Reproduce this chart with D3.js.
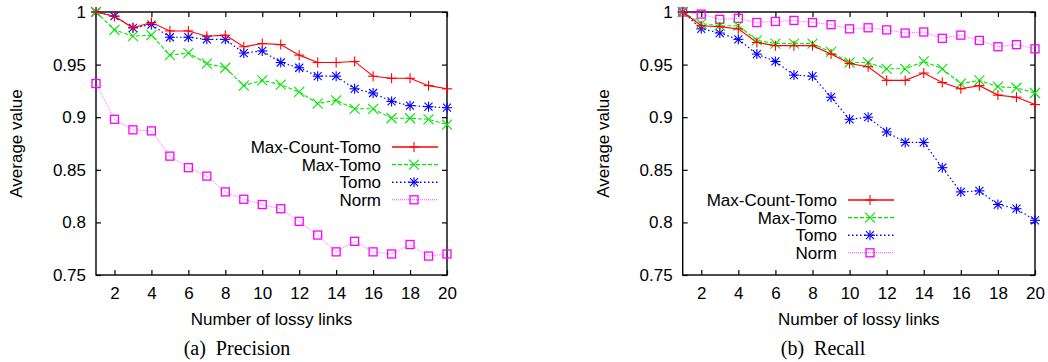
<!DOCTYPE html>
<html>
<head>
<meta charset="utf-8">
<script src="https://cdn.jsdelivr.net/npm/d3@7"></script>
<style>
  body { margin: 0; background: #fff; }
  svg text { font-family: "Liberation Sans", Arial, sans-serif; }
</style>
</head>
<body>
<div id="container"></div>
<script>
var lossyLinks = [1,2,3,4,5,6,7,8,9,10,11,12,13,14,15,16,17,18,19,20];
var seriesNames = ["Max-Count-Tomo", "Max-Tomo", "Tomo", "Norm"];
var yTicks = [0.75, 0.8, 0.85, 0.9, 0.95, 1];
var xTicks = [2,4,6,8,10,12,14,16,18,20];

var precisionMaxCount = [1.0,0.996,0.985,0.990,0.982,0.982,0.977,0.978,0.967,0.970,0.969,0.959,0.952,0.952,0.953,0.939,0.937,0.937,0.930,0.927];
var precisionMaxTomo  = [1.0,0.983,0.977,0.978,0.959,0.961,0.951,0.947,0.930,0.935,0.931,0.924,0.913,0.916,0.908,0.908,0.899,0.899,0.898,0.893];
var precisionTomo     = [1.0,0.996,0.985,0.988,0.976,0.976,0.974,0.974,0.961,0.963,0.952,0.947,0.939,0.939,0.927,0.923,0.915,0.911,0.910,0.909];
var precisionNorm     = [0.932,0.898,0.888,0.887,0.863,0.852,0.844,0.829,0.822,0.817,0.813,0.801,0.788,0.772,0.782,0.772,0.770,0.779,0.768,0.770];

var recallMaxCount = [1.0,0.987,0.986,0.984,0.971,0.968,0.968,0.968,0.960,0.951,0.948,0.935,0.935,0.942,0.933,0.927,0.930,0.921,0.919,0.912];
var recallMaxTomo  = [1.0,0.989,0.987,0.987,0.973,0.970,0.970,0.970,0.962,0.952,0.952,0.946,0.946,0.953,0.946,0.932,0.935,0.929,0.928,0.923];
var recallTomo     = [1.0,0.984,0.980,0.974,0.960,0.953,0.940,0.939,0.919,0.898,0.900,0.886,0.876,0.876,0.852,0.829,0.830,0.817,0.813,0.802];
var recallNorm     = [1.0,0.998,0.993,0.994,0.990,0.991,0.992,0.990,0.988,0.984,0.985,0.983,0.980,0.981,0.975,0.978,0.973,0.967,0.969,0.965];

// line look for each series: colour, dash, marker
var styles = [
  {color: "#ff0000", dash: null,  width: 1.1, marker: "plus",   opacity: 1},
  {color: "#00e600", dash: "4,2", width: 1.1, marker: "cross",  opacity: 1},
  {color: "#0000ff", dash: "1.5,2.5", width: 1.2, marker: "star", opacity: 1},
  {color: "#ff00ff", dash: "1,1", width: 0.8, marker: "square", opacity: 0.75}
];

var svg = d3.select("#container").append("svg")
    .attr("width", 1048)
    .attr("height", 362);

function drawMarker(g, type, cx, cy, color) {
  var r = 5;
  var m = g.append("g").attr("transform", "translate(" + cx + "," + cy + ")")
      .attr("stroke", color).attr("stroke-width", 1.1).attr("fill", "none");
  if (type == "plus" || type == "star") {
    m.append("line").attr("x1", -r).attr("x2", r).attr("y1", 0).attr("y2", 0);
    m.append("line").attr("x1", 0).attr("x2", 0).attr("y1", -r).attr("y2", r);
  }
  if (type == "cross" || type == "star") {
    var k = type == "star" ? 4 : 5;
    m.append("line").attr("x1", -k).attr("x2", k).attr("y1", -k).attr("y2", k);
    m.append("line").attr("x1", -k).attr("x2", k).attr("y1", k).attr("y2", -k);
  }
  if (type == "square") {
    m.append("rect").attr("x", -4).attr("y", -4).attr("width", 8).attr("height", 8)
      .attr("stroke-width", 1.3);
  }
}

function panel(left, right, series, legendPos, caption, captionX) {
  var top = 12, bottom = 275;
  var x = d3.scaleLinear().domain([1, 20]).range([left, right]);
  var y = d3.scaleLinear().domain([0.75, 1]).range([bottom, top]);
  var g = svg.append("g");

  g.append("g")
    .attr("transform", "translate(0," + bottom + ")")
    .call(d3.axisBottom(x).tickValues(xTicks).tickSize(-5).tickSizeOuter(0).tickPadding(12))
    .call(a => a.select(".domain").remove());
  g.append("g")
    .attr("transform", "translate(0," + top + ")")
    .call(d3.axisTop(x).tickValues(xTicks).tickSize(-5).tickSizeOuter(0).tickFormat(""))
    .call(a => a.select(".domain").remove());
  g.append("g")
    .attr("transform", "translate(" + left + ",0)")
    .call(d3.axisLeft(y).tickValues(yTicks).tickSize(-5).tickSizeOuter(0).tickPadding(10)
      .tickFormat(d3.format("~g")))
    .call(a => a.select(".domain").remove());
  g.append("g")
    .attr("transform", "translate(" + right + ",0)")
    .call(d3.axisRight(y).tickValues(yTicks).tickSize(-5).tickSizeOuter(0).tickFormat(""))
    .call(a => a.select(".domain").remove());
  g.selectAll(".tick line").attr("stroke", "#000").attr("stroke-width", 1.2);
  g.selectAll(".tick text").attr("font-size", 17).attr("fill", "#000");

  g.append("rect")
    .attr("x", left).attr("y", top)
    .attr("width", right - left).attr("height", bottom - top)
    .attr("fill", "none").attr("stroke", "#000").attr("stroke-width", 1.4);

  var line = d3.line().x((d, i) => x(lossyLinks[i])).y(d => y(d));

  // draw Norm first so the others sit on top
  for (var s = series.length - 1; s >= 0; s--) {
    var st = styles[s];
    g.append("path")
      .attr("d", line(series[s]))
      .attr("fill", "none")
      .attr("stroke", st.color)
      .attr("stroke-width", st.width)
      .attr("stroke-dasharray", st.dash)
      .attr("opacity", st.opacity);
    series[s].forEach(function(v, i) {
      drawMarker(g, st.marker, x(lossyLinks[i]), y(v), st.color);
    });
  }

  // legend
  seriesNames.forEach(function(name, i) {
    var st = styles[i];
    var ly = legendPos.y + i * 17.6;
    g.append("text")
      .attr("x", legendPos.x).attr("y", ly + 6)
      .attr("text-anchor", "end").attr("font-size", 17).text(name);
    g.append("line")
      .attr("x1", legendPos.x + 11).attr("x2", legendPos.x + 57)
      .attr("y1", ly).attr("y2", ly)
      .attr("stroke", st.color).attr("stroke-width", i == 0 ? 1.5 : st.width + 0.3)
      .attr("stroke-dasharray", st.dash).attr("opacity", st.opacity);
    drawMarker(g, st.marker, legendPos.x + 33, ly, st.color);
  });

  g.append("text")
    .attr("transform", "translate(" + (left - 80) + "," + ((top + bottom) / 2) + ") rotate(-90)")
    .attr("text-anchor", "middle").attr("dy", "0.35em").attr("font-size", 17)
    .text("Average value");
  g.append("text")
    .attr("x", (left + right) / 2).attr("y", 325)
    .attr("text-anchor", "middle").attr("font-size", 17)
    .text("Number of lossy links");
  g.append("text")
    .attr("x", captionX).attr("y", 355)
    .attr("text-anchor", "middle").attr("font-size", 20)
    .style("font-family", "'Liberation Serif', 'Times New Roman', serif")
    .style("white-space", "pre")
    .text(caption);
}

panel(96, 447, [precisionMaxCount, precisionMaxTomo, precisionTomo, precisionNorm],
      {x: 381, y: 147}, "(a)  Precision", 237);
panel(682.7, 1035, [recallMaxCount, recallMaxTomo, recallTomo, recallNorm],
      {x: 837, y: 200}, "(b)  Recall", 823);
</script>
</body>
</html>
